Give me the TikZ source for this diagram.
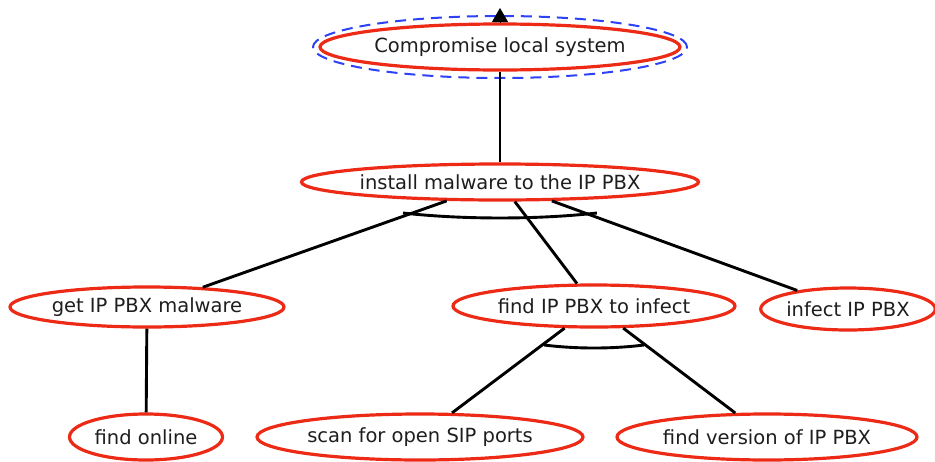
\documentclass[tikz,border=0pt]{standalone}
\usepackage{fontspec}
\setmainfont{DejaVu Sans}
\usetikzlibrary{shapes.geometric,arrows.meta}
\definecolor{goalred}{RGB}{236,42,22}
\definecolor{focusblue}{RGB}{45,65,245}
\definecolor{labelink}{RGB}{30,30,30}
\begin{document}
\begin{tikzpicture}[x=1pt,y=-1pt,
  goal/.style={ellipse, draw=goalred, line width=3.2pt, fill=white, inner sep=0pt,
               font=\fontsize{19.5}{23}\selectfont, text=labelink},
  link/.style={draw=black, line width=2.9pt},
  andarc/.style={draw=black, line width=2.9pt},
  focus/.style={draw=focusblue, line width=2pt, dash pattern=on 11pt off 7pt}]
\useasboundingbox (0,0) rectangle (935,461);

% node centres
\coordinate (rootC) at (500,47);
\coordinate (installC) at (500,182);
\coordinate (getC) at (147,307);
\coordinate (findC) at (594,306);
\coordinate (infectC) at (848,309);
\coordinate (onlineC) at (146,437);
\coordinate (scanC) at (420,437);
\coordinate (versionC) at (767,437);

% goal tree
\node[goal, minimum width=360pt, minimum height=46pt] (root) at (rootC) {Compromise local system};
\node[goal, minimum width=396pt, minimum height=36pt] (install) at (installC) {install malware to the IP PBX};
\node[goal, minimum width=274pt, minimum height=40pt] (get) at (getC) {get IP PBX malware};
\node[goal, minimum width=282pt, minimum height=42pt] (find) at (findC) {find IP PBX to infect};
\node[goal, minimum width=170pt, minimum height=42pt] (infect) at (infectC) {infect IP PBX};
\node[goal, minimum width=153pt, minimum height=46pt] (online) at (onlineC) {find online};
\node[goal, minimum width=326pt, minimum height=46pt] (scan) at (scanC) {scan for open SIP ports};
\node[goal, minimum width=300pt, minimum height=46pt] (version) at (versionC) {find version of IP PBX};

% highlight around the root goal
\draw[focus] (root.center) ellipse [x radius=187pt, y radius=31pt];

% root marker
\coordinate (apex) at (500,8);
\draw[draw=black, line width=1pt, -{Triangle[length=14pt,width=16pt]}] (root.north) -- (apex);

% refinement links
\draw[link] (install) -- (root);
\draw[link] (install) -- (get);
\draw[link] (install) -- (find);
\draw[link] (install) -- (infect);
\draw[link] (get) -- (online);
\draw[link] (find) -- (scan);
\draw[link] (find) -- (version);

% AND-decomposition arcs
\draw[andarc] ([shift={(-97,31)}]install.center)
  arc [start angle=239.5, end angle=300.5, x radius=191pt, y radius=36pt];
\draw[andarc] ([shift={(-50,39)}]find.center)
  arc [start angle=248.2, end angle=291.8, x radius=134.7pt, y radius=42pt];
\end{tikzpicture}
\end{document}
